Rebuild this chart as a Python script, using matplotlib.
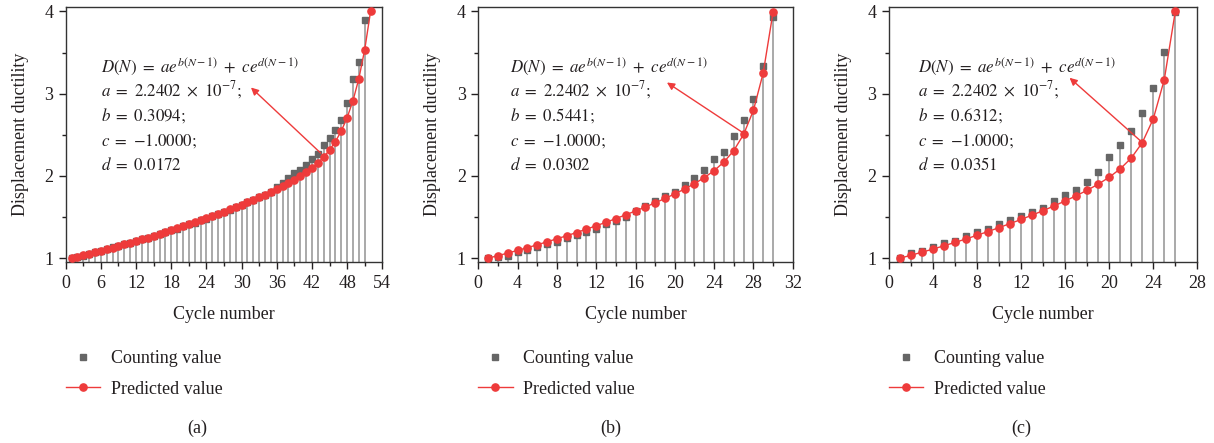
import matplotlib
matplotlib.use('Agg')
from matplotlib import pyplot as plt
from matplotlib.ticker import MultipleLocator

plt.rcParams['font.family'] = ['Liberation Serif', 'DejaVu Serif']
plt.rcParams['mathtext.fontset'] = 'stix'
plt.rcParams['font.size'] = 13
plt.rcParams['text.color'] = '#231f20'
plt.rcParams['axes.labelcolor'] = '#231f20'
plt.rcParams['xtick.color'] = '#231f20'
plt.rcParams['ytick.color'] = '#231f20'

# specimen (a)
count_a = [1.00, 1.02, 1.03, 1.05, 1.07, 1.09, 1.11, 1.13, 1.15, 1.17,
           1.19, 1.21, 1.23, 1.25, 1.27, 1.29, 1.32, 1.34, 1.36, 1.39,
           1.41, 1.43, 1.46, 1.48, 1.51, 1.54, 1.56, 1.59, 1.62, 1.65,
           1.68, 1.71, 1.74, 1.77, 1.81, 1.87, 1.92, 1.98, 2.03, 2.07,
           2.13, 2.20, 2.27, 2.38, 2.46, 2.56, 2.68, 2.89, 3.18, 3.39,
           3.90]
pred_a = [1.000, 1.017, 1.035, 1.053, 1.071, 1.090, 1.109, 1.128, 1.148, 1.168,
          1.188, 1.208, 1.229, 1.251, 1.272, 1.294, 1.317, 1.340, 1.363, 1.387,
          1.411, 1.435, 1.460, 1.485, 1.511, 1.538, 1.565, 1.592, 1.620, 1.648,
          1.678, 1.708, 1.738, 1.770, 1.803, 1.837, 1.873, 1.911, 1.951, 1.995,
          2.043, 2.097, 2.158, 2.230, 2.315, 2.418, 2.546, 2.708, 2.915, 3.183,
          3.535, 4.001]

# specimen (b)
count_b = [1.00, 1.01, 1.03, 1.07, 1.10, 1.13, 1.17, 1.20, 1.24, 1.28,
           1.32, 1.36, 1.41, 1.45, 1.50, 1.57, 1.63, 1.69, 1.75, 1.80,
           1.89, 1.97, 2.07, 2.21, 2.29, 2.48, 2.68, 2.93, 3.34, 3.93]
pred_b = [1.000, 1.031, 1.062, 1.095, 1.128, 1.163, 1.199, 1.236, 1.273, 1.312,
          1.353, 1.394, 1.437, 1.481, 1.527, 1.574, 1.623, 1.673, 1.726, 1.782,
          1.841, 1.906, 1.979, 2.064, 2.169, 2.308, 2.504, 2.796, 3.253, 3.992]

# specimen (c)
count_c = [1.00, 1.06, 1.09, 1.13, 1.18, 1.21, 1.27, 1.32, 1.36, 1.41,
           1.46, 1.51, 1.56, 1.61, 1.69, 1.77, 1.83, 1.93, 2.05, 2.23,
           2.38, 2.55, 2.76, 3.07, 3.51, 3.99]
pred_c = [1.000, 1.036, 1.073, 1.111, 1.151, 1.192, 1.234, 1.279, 1.324, 1.372,
          1.421, 1.471, 1.524, 1.578, 1.636, 1.696, 1.759, 1.826, 1.900, 1.984,
          2.086, 2.217, 2.404, 2.693, 3.170, 3.999]

params_a = ['2.2402', '0.3094', '{-}1.0000', '0.0172']
params_b = ['2.2402', '0.5441', '{-}1.0000', '0.0302']
params_c = ['2.2402', '0.6312', '{-}1.0000', '0.0351']

RED = '#ee3b3b'
W, H = 1214, 443
fig = plt.figure(figsize=(W / 100, H / 100), dpi=100)


def panel(left, width, count, pred, xmax, xstep, params, tail, head, xtext, tag):
    ax = fig.add_axes([left / W, 1 - 262.3 / H, width / W, 255 / H])
    nc = range(1, len(count) + 1)
    npred = range(1, len(pred) + 1)
    ax.vlines(nc, 0.95, count, color='#9b9b9b', lw=1.2, zorder=1)
    ax.plot(nc, count, 's', color='#666666', ms=4.4, zorder=2, label='Counting value')
    ax.plot(npred, pred, '-o', color=RED, lw=1.0, ms=5.2, zorder=3,
            label='Predicted value')
    ax.set_xlim(0, xmax)
    ax.set_ylim(0.95, 4.05)
    ax.xaxis.set_major_locator(MultipleLocator(xstep))
    ax.xaxis.set_minor_locator(MultipleLocator(xstep / 2))
    ax.yaxis.set_major_locator(MultipleLocator(1))
    ax.yaxis.set_minor_locator(MultipleLocator(0.5))
    ax.tick_params(which='major', direction='out', length=5, width=1, pad=4)
    ax.tick_params(which='minor', direction='out', length=3, width=1)
    for s in ax.spines.values():
        s.set_color('#333333')
        s.set_linewidth(1.0)
    ax.set_xlabel('Cycle number', labelpad=10)
    ax.set_ylabel('Displacement ductility', labelpad=11)

    # fitted curve and its constants
    a, b, c, d = params
    lines = [r'$D(N)\ =\ ae^{b(N-1)}\ +\ ce^{d(N-1)}$',
             r'$a\ =\ %s\ \times\ 10^{-7};$' % a,
             r'$b\ =\ %s;$' % b,
             r'$c\ =\ %s;$' % c,
             r'$d\ =\ %s$' % d]
    for txt, y in zip(lines, [3.27, 2.968, 2.668, 2.366, 2.066]):
        ax.text(xtext, y, txt, va='baseline', ha='left', fontsize=12.2)
    ax.annotate('', xy=head, xytext=tail,
                arrowprops=dict(arrowstyle='-|>', color=RED, lw=1.0,
                                mutation_scale=11, shrinkA=0, shrinkB=0))

    ax.legend(loc='upper left', bbox_to_anchor=(0, -0.345), frameon=False,
              borderaxespad=0, borderpad=0, handlelength=1.9,
              handletextpad=0.6, labelspacing=0.75, numpoints=1)
    fig.text((left + 132) / W, 1 - 428 / H, tag, ha='center', va='center',
             fontsize=13)
    return ax


panel(65.7, 316.6, count_a, pred_a, 54, 6, params_a,
      (43.5, 2.277), (31.6, 3.075), 6.1, '(a)')
panel(478.3, 314.4, count_b, pred_b, 32, 4, params_b,
      (26.9, 2.528), (19.2, 3.136), 3.2, '(b)')
panel(889.0, 308.3, count_c, pred_c, 28, 4, params_c,
      (22.8, 2.431), (16.4, 3.193), 2.6, '(c)')

fig.savefig('out.png', dpi=100)
